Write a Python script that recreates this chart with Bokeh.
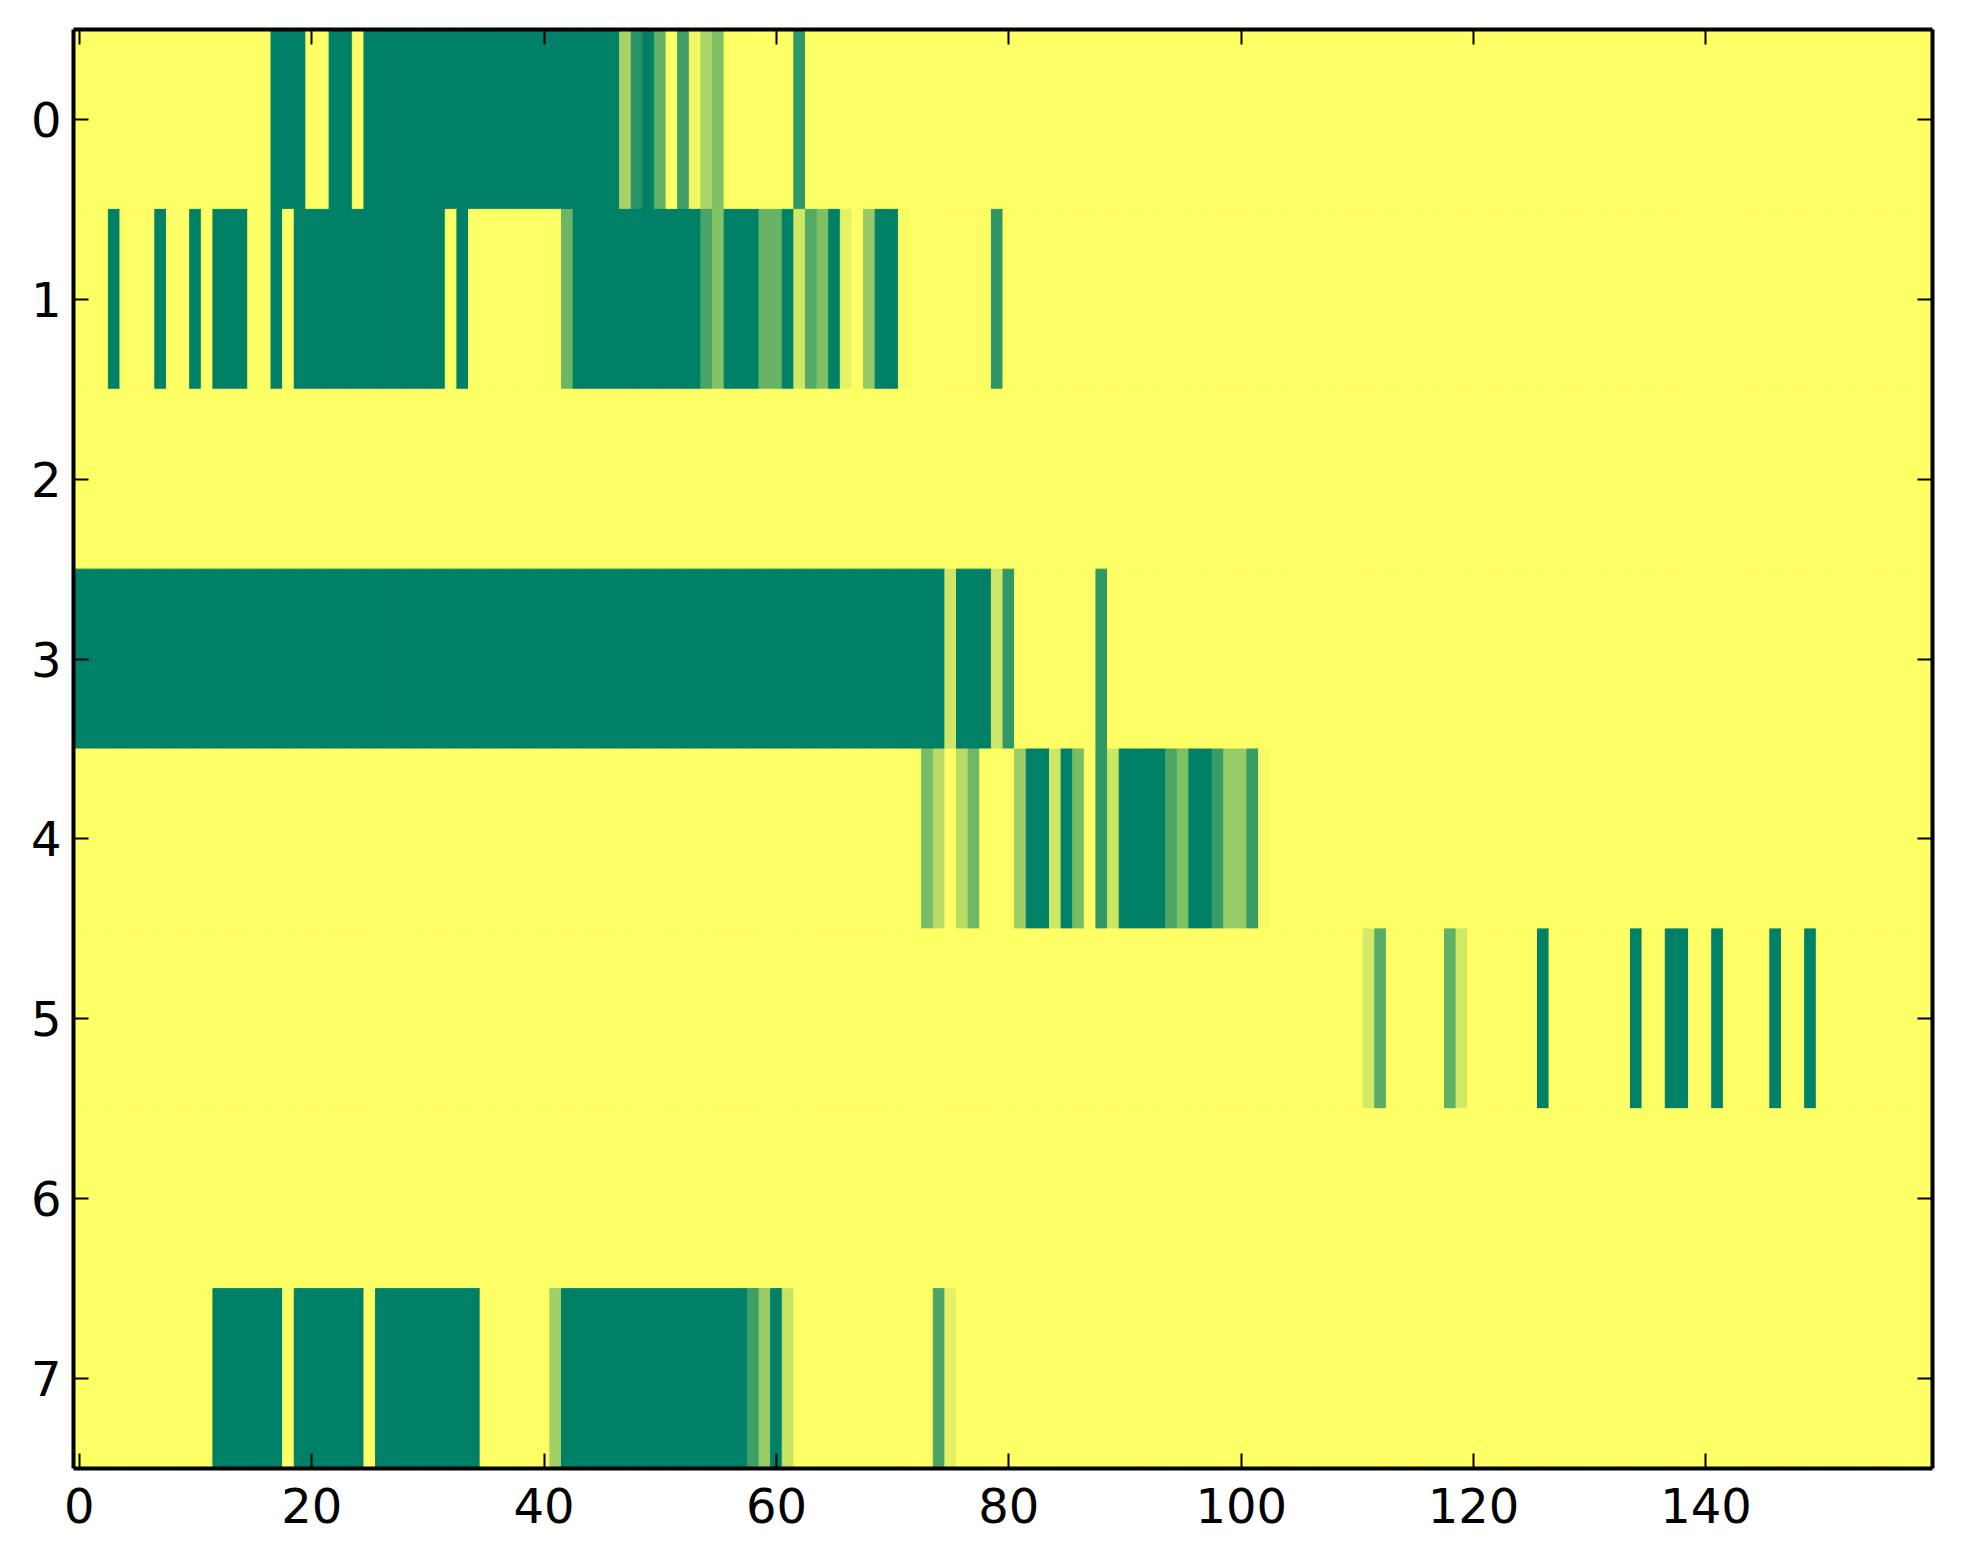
from bokeh.plotting import figure
from bokeh.models import ColumnDataSource, LinearColorMapper, Range1d, LinearAxis, FixedTicker
from bokeh.transform import transform
from bokeh.embed import file_html
from bokeh.resources import INLINE

# ---- data: 8 rows x 160 columns, values 0..1 (0 = yellow, 1 = green) ----
n_rows = 8
n_cols = 160

# runs as (first_col, last_col, value); all other cells are 0
row0_runs = [(17, 19, 1.0), (22, 23, 1.0), (25, 46, 1.0), (47, 47, 0.34), (48, 48, 0.84),
             (49, 49, 1.0), (50, 50, 0.62), (52, 52, 0.75), (53, 53, 0.06), (54, 54, 0.33),
             (55, 55, 0.50), (62, 62, 0.81)]
row1_runs = [(3, 3, 1.0), (7, 7, 1.0), (10, 10, 1.0), (12, 14, 1.0), (17, 17, 1.0),
             (19, 31, 1.0), (33, 33, 1.0), (42, 42, 0.57), (43, 53, 1.0), (54, 54, 0.71),
             (55, 55, 0.48), (56, 58, 1.0), (59, 60, 0.59), (61, 61, 1.0), (62, 62, 0.18),
             (63, 63, 0.67), (64, 64, 0.50), (65, 65, 1.0), (66, 66, 0.10), (68, 68, 0.42),
             (69, 70, 1.0), (71, 71, 0.03), (79, 79, 0.82)]
row2_runs = []
row3_runs = [(0, 74, 1.0), (75, 75, 0.19), (76, 78, 1.0), (79, 79, 0.19), (80, 80, 0.81),
             (88, 88, 0.81)]
row4_runs = [(73, 73, 0.53), (74, 74, 0.28), (76, 76, 0.28), (77, 77, 0.56), (81, 81, 0.39),
             (82, 83, 1.0), (84, 84, 0.19), (85, 85, 1.0), (86, 86, 0.53), (88, 88, 0.81),
             (89, 89, 0.20), (90, 93, 1.0), (94, 94, 0.69), (95, 95, 0.50), (96, 97, 1.0),
             (98, 98, 0.78), (99, 100, 0.41), (101, 101, 0.78), (102, 102, 0.04)]
row5_runs = [(111, 111, 0.17), (112, 112, 0.65), (118, 118, 0.62), (119, 119, 0.18),
             (126, 126, 1.0), (134, 134, 1.0), (137, 138, 1.0), (141, 141, 1.0),
             (146, 146, 1.0), (149, 149, 1.0)]
row6_runs = []
row7_runs = [(12, 17, 1.0), (19, 24, 1.0), (26, 34, 1.0), (41, 41, 0.37), (42, 57, 1.0),
             (58, 58, 0.76), (59, 59, 0.41), (60, 60, 1.0), (61, 61, 0.22), (74, 74, 0.71),
             (75, 75, 0.10)]

x_ticks = [0, 20, 40, 60, 80, 100, 120, 140]
y_ticks = [0, 1, 2, 3, 4, 5, 6, 7]

all_runs = [row0_runs, row1_runs, row2_runs, row3_runs, row4_runs, row5_runs, row6_runs, row7_runs]

xs, ys, vs = [], [], []
for r in range(n_rows):
    row = [0.0] * n_cols
    for a, b, v in all_runs[r]:
        for c in range(a, b + 1):
            row[c] = v
    for c in range(n_cols):
        xs.append(c)
        ys.append(r)
        vs.append(row[c])

src = ColumnDataSource(dict(x=xs, y=ys, v=vs))

# summer_r colormap (matplotlib): v -> (1-v, 1-v/2, 0.4)
palette = []
for i in range(256):
    t = i / 255.0
    rr = int(round(255 * (1 - t)))
    gg = int(round(255 * (1 - t / 2)))
    bb = int(round(255 * 0.4))
    palette.append("#%02x%02x%02x" % (rr, gg, bb))
mapper = LinearColorMapper(palette=palette, low=0.0, high=1.0)

W, H = 1955, 1556
p = figure(width=W, height=H, output_backend="svg", toolbar_location=None,
           x_range=Range1d(-0.5, n_cols - 0.5), y_range=Range1d(n_rows - 0.5, -0.5),
           min_border_left=73, min_border_right=23, min_border_top=29, min_border_bottom=88)
p.background_fill_color = "#ffff66"
p.border_fill_color = "white"
p.grid.visible = False

p.rect(x="x", y="y", width=1, height=1, source=src,
       fill_color=transform("v", mapper), line_color=transform("v", mapper), line_width=1)

p.outline_line_color = None

font = "DejaVu Sans"

def style_axis(ax, ticks, show_labels, standoff):
    ax.ticker = FixedTicker(ticks=ticks)
    ax.axis_line_color = "black"
    ax.axis_line_width = 4
    ax.major_tick_in = 15
    ax.major_tick_out = 0
    ax.major_tick_line_width = 2
    ax.major_tick_line_color = "black"
    ax.minor_tick_line_color = None
    ax.major_label_text_font = font
    ax.major_label_standoff = standoff
    if show_labels:
        ax.major_label_text_font_size = "48px"
        ax.major_label_text_color = "black"
    else:
        ax.major_label_text_font_size = "10px"
        ax.major_label_text_color = None

style_axis(p.xaxis[0], x_ticks, True, 19)
style_axis(p.yaxis[0], y_ticks, True, 12)

top_ax = LinearAxis()
right_ax = LinearAxis()
p.add_layout(top_ax, "above")
p.add_layout(right_ax, "right")
style_axis(top_ax, x_ticks, False, 0)
style_axis(right_ax, y_ticks, False, 0)

open("out.html", "w").write(file_html(p, INLINE))
